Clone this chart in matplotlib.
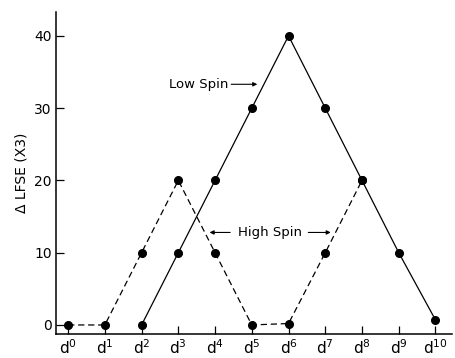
import matplotlib
matplotlib.use("Agg")
import matplotlib.pyplot as plt

electrons = list(range(11))
tick_labels = [f"d$^{{{i}}}$" for i in electrons]
low_spin_x = [2, 3, 4, 5, 6, 7, 8, 9, 10]
low_spin_y = [0, 10, 20, 30, 40, 30, 20, 10, 0.7]
high_spin_x = [0, 1, 2, 3, 4, 5, 6, 7, 8]
high_spin_y = [0, 0, 10, 20, 10, 0, 0.2, 10, 20]
y_ticks = [0, 10, 20, 30, 40]

fig = plt.figure(figsize=(4.56, 3.58), dpi=100)
ax = fig.add_axes([56/456, 24/358, (452-56)/456, (334-12)/358])

ax.plot(high_spin_x, high_spin_y, color="black", lw=0.9, ls=(0, (5, 3)),
        marker="o", ms=5.5)
ax.plot(low_spin_x, low_spin_y, color="black", lw=0.9, marker="o", ms=5.5)

ax.set_xlim(-0.33, 10.45)
ax.set_ylim(-1.25, 43.3)
ax.set_xticks(electrons)
ax.set_xticklabels(tick_labels, fontsize=11)
ax.set_yticks(y_ticks)
ax.tick_params(axis="both", direction="in", length=6, width=0.9, labelsize=11, pad=3)
ax.tick_params(axis="y", labelsize=10)
for s in ["top", "right"]:
    ax.spines[s].set_visible(False)
for s in ["left", "bottom"]:
    ax.spines[s].set_linewidth(1.1)
ax.set_ylabel("Δ LFSE (X3)", fontsize=10)

arrow = dict(arrowstyle="-|>", color="black", lw=0.8, mutation_scale=6, shrinkA=1, shrinkB=0)
ax.annotate("", xy=(5.15, 33.3), xytext=(4.4, 33.3), arrowprops=arrow)
ax.text(4.35, 33.3, "Low Spin", fontsize=9.5, ha="right", va="center")
ax.text(5.5, 12.8, "High Spin", fontsize=9.5, ha="center", va="center")
ax.annotate("", xy=(3.85, 12.8), xytext=(4.45, 12.8), arrowprops=arrow)
ax.annotate("", xy=(7.15, 12.8), xytext=(6.5, 12.8), arrowprops=arrow)

fig.savefig("out.png", dpi=100)
